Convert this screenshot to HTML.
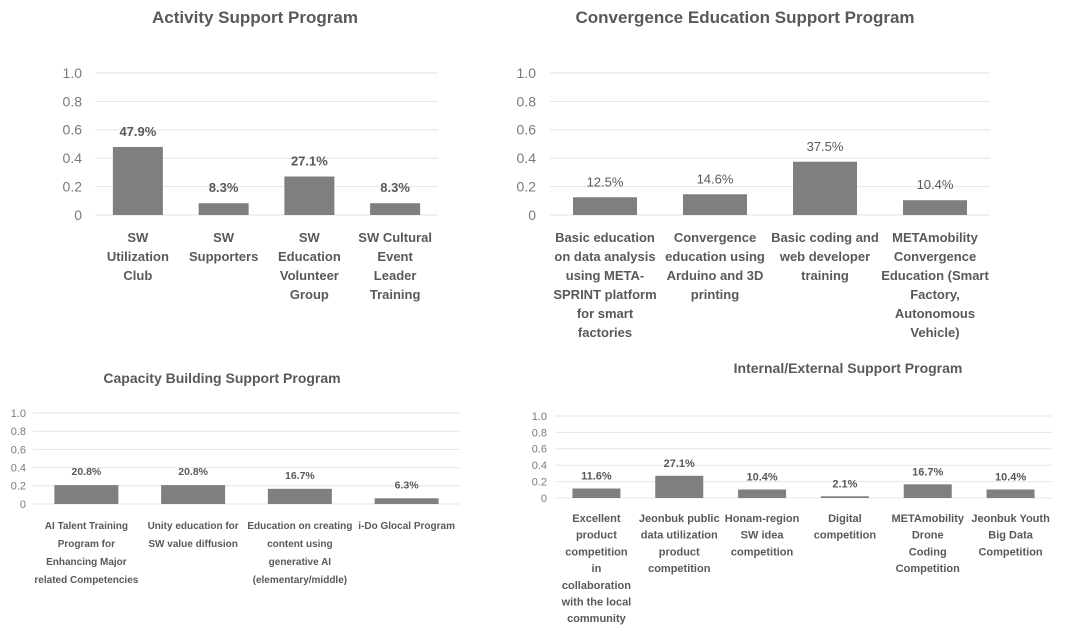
<!DOCTYPE html>
<html><head><meta charset="utf-8"><style>
body{margin:0;background:#fff;width:1085px;height:635px;overflow:hidden}
svg{display:block;font-family:"Liberation Sans",sans-serif}
</style></head><body>
<svg id="chart" width="1085" height="635" viewBox="0 0 1085 635"></svg>
<script>
const c1Categories=[["SW","Utilization","Club"],["SW","Supporters"],["SW","Education","Volunteer","Group"],["SW Cultural","Event","Leader","Training"]];
const c1Values=[0.479,0.083,0.271,0.083];
const c1Labels=["47.9%","8.3%","27.1%","8.3%"];
const c2Categories=[["Basic education","on data analysis","using META-","SPRINT platform","for smart","factories"],["Convergence","education using","Arduino and 3D","printing"],["Basic coding and","web developer","training"],["METAmobility","Convergence","Education (Smart","Factory,","Autonomous","Vehicle)"]];
const c2Values=[0.125,0.146,0.375,0.104];
const c2Labels=["12.5%","14.6%","37.5%","10.4%"];
const c3Categories=[["AI Talent Training","Program for","Enhancing Major","related Competencies"],["Unity education for","SW value diffusion"],["Education on creating","content using","generative AI","(elementary/middle)"],["i-Do Glocal Program"]];
const c3Values=[0.208,0.208,0.167,0.063];
const c3Labels=["20.8%","20.8%","16.7%","6.3%"];
const c4Categories=[["Excellent","product","competition","in","collaboration","with the local","community"],["Jeonbuk public","data utilization","product","competition"],["Honam-region","SW idea","competition"],["Digital","competition"],["METAmobility","Drone","Coding","Competition"],["Jeonbuk Youth","Big Data","Competition"]];
const c4Values=[0.116,0.271,0.104,0.021,0.167,0.104];
const c4Labels=["11.6%","27.1%","10.4%","2.1%","16.7%","10.4%"];
const yTicks=[0,0.2,0.4,0.6,0.8,1.0];
const yTickLabels=["0","0.2","0.4","0.6","0.8","1.0"];

const svg=document.getElementById('chart');
const NS="http://www.w3.org/2000/svg";
function mk(tag,attrs,parent){const e=document.createElementNS(NS,tag);for(const k in attrs)e.setAttribute(k,attrs[k]);parent.appendChild(e);return e;}

function drawChart(cfg,cats,vals,labs){
  const g=mk('g',{},svg);
  
  
  const y=v=>cfg.y0-v*(cfg.y0-cfg.y1);
  const n=cats.length;
  const step=(cfg.x1-cfg.x0)/n;
  const x=i=>cfg.x0+step*(i+0.5);
  const t=mk('text',{x:cfg.tx,y:cfg.ty,'text-anchor':'middle','font-size':cfg.tfs,'font-weight':'bold',fill:'#595959'},g);
  t.textContent=cfg.title;
  
  
  yTicks.forEach((v,i)=>{
    const l=mk('line',{x1:cfg.x0,x2:cfg.x1,y1:y(v),y2:y(v),stroke:'#e6e6e6','stroke-width':1},g);
    
    
    const tl=mk('text',{x:cfg.ylx,y:y(v)+cfg.yfs*0.35,'text-anchor':'end','font-size':cfg.yfs,fill:'#7a7a7a'},g);
    tl.textContent=yTickLabels[i];
    
    
  });
  vals.forEach((v,i)=>{
    const r=mk('rect',{x:x(i)-cfg.bw/2,y:y(v),width:cfg.bw,height:y(0)-y(v),fill:'#7f7f7f'},g);
    
    
    const vl=mk('text',{x:x(i),y:y(v)-cfg.vgap,'text-anchor':'middle','font-size':cfg.vfs,'font-weight':cfg.vbold?'bold':'normal',fill:'#595959'},g);
    vl.textContent=labs[i];
    
    
    const ct=mk('text',{'text-anchor':'middle','font-size':cfg.cfs,'font-weight':'bold',fill:'#595959'},g);
    
    
    cats[i].forEach((line,j)=>{
      const s=mk('tspan',{x:x(i),y:cfg.cy+j*cfg.clh},ct);
      s.textContent=line;
    });
  });
}
drawChart({name:'activity-support-chart',title:'Activity Support Program',tx:255,ty:23,tfs:17,x0:95,x1:438,y0:215,y1:73,ylx:82,yfs:14,bw:50,vgap:11,vfs:13,vbold:true,cy:242,clh:19,cfs:13},c1Categories,c1Values,c1Labels);
drawChart({name:'convergence-education-chart',title:'Convergence Education Support Program',tx:745,ty:23,tfs:17,x0:550,x1:990,y0:215,y1:73,ylx:536,yfs:14,bw:64,vgap:11,vfs:13,vbold:false,cy:242,clh:19,cfs:13},c2Categories,c2Values,c2Labels);
drawChart({name:'capacity-building-chart',title:'Capacity Building Support Program',tx:222,ty:383,tfs:14,x0:33,x1:460,y0:504,y1:413,ylx:26,yfs:11,bw:64,vgap:10,vfs:10.5,vbold:true,cy:529,clh:18,cfs:10},c3Categories,c3Values,c3Labels);
drawChart({name:'internal-external-chart',title:'Internal/External Support Program',tx:848,ty:373,tfs:14,x0:555,x1:1052,y0:498,y1:416,ylx:547,yfs:11,bw:48,vgap:9,vfs:11,vbold:true,cy:522,clh:16.7,cfs:11},c4Categories,c4Values,c4Labels);
</script>
</body></html>
